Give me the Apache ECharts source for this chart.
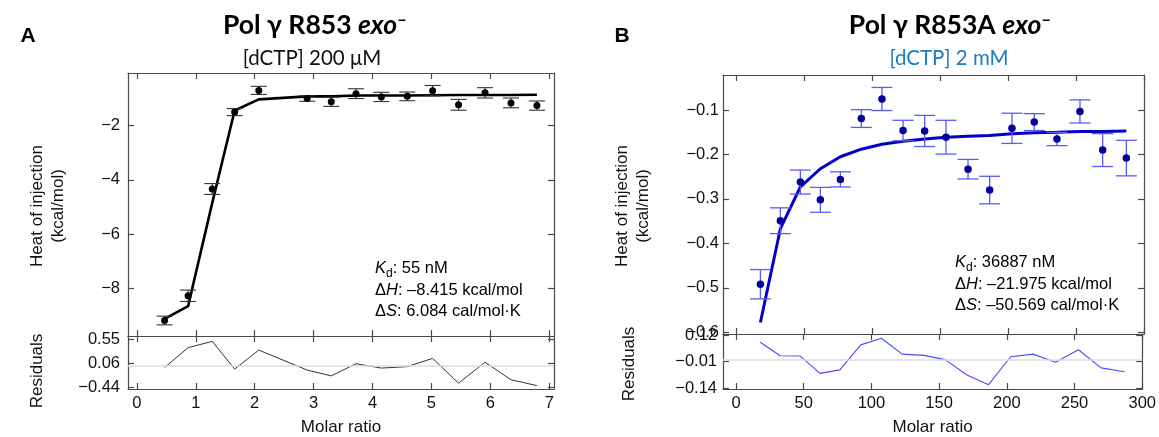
<!DOCTYPE html>
<html>
<head>
<meta charset="UTF-8">
<title>ITC Pol gamma R853</title>
<script src="https://cdn.jsdelivr.net/npm/echarts@6/dist/echarts.min.js"></script>
<style>
    html, body { margin: 0; padding: 0; background: #fff; }
    #main { width: 1159px; height: 437px; }
</style>
</head>
<body>
<div id="main"></div>
<script>
    // ---- panel A : Pol γ R853 exo-, [dCTP] 200 µM ----
    var ratioA = [0.47, 0.87, 1.28, 1.66, 2.07, 2.89, 3.30, 3.72, 4.15, 4.59, 5.02, 5.46, 5.91, 6.35, 6.79];
    var heatA  = [-9.18, -8.27, -4.34, -1.51, -0.71, -1.01, -1.13, -0.83, -0.95, -0.93, -0.72, -1.24, -0.80, -1.17, -1.27];
    var errA   = [0.16, 0.21, 0.20, 0.13, 0.15, 0.10, 0.17, 0.18, 0.17, 0.16, 0.19, 0.20, 0.19, 0.18, 0.17];
    var fitA   = [-9.12, -8.65, -4.85, -1.45, -1.04, -0.93, -0.93, -0.90, -0.90, -0.90, -0.89, -0.88, -0.88, -0.88, -0.87];
    var residA = [-0.03, 0.38, 0.51, -0.06, 0.33, -0.08, -0.20, 0.05, -0.04, -0.01, 0.16, -0.35, 0.08, -0.28, -0.40];
    var xTicksA = [0, 1, 2, 3, 4, 5, 6, 7];
    var yTicksA = [-8, -6, -4, -2];
    var resTicksA = [-0.44, 0.06, 0.55];

    // ---- panel B : Pol γ R853A exo-, [dCTP] 2 mM ----
    var ratioB = [17.9, 32.6, 47.3, 62.0, 76.7, 92.1, 107.3, 122.8, 138.7, 154.4, 170.6, 186.5, 202.9, 219.3, 236.0, 252.9, 269.6, 287.0];
    var heatB  = [-0.492, -0.349, -0.262, -0.302, -0.256, -0.119, -0.075, -0.146, -0.147, -0.161, -0.233, -0.280, -0.141, -0.127, -0.165, -0.103, -0.190, -0.208];
    var errB   = [0.033, 0.029, 0.027, 0.028, 0.017, 0.020, 0.026, 0.023, 0.035, 0.038, 0.022, 0.031, 0.034, 0.019, 0.015, 0.026, 0.037, 0.040];
    var fitB   = [-0.578, -0.367, -0.273, -0.232, -0.205, -0.188, -0.177, -0.170, -0.165, -0.161, -0.159, -0.157, -0.153, -0.151, -0.150, -0.148, -0.148, -0.147];
    var residB = [0.085, 0.019, 0.018, -0.067, -0.050, 0.072, 0.104, 0.027, 0.021, 0.000, -0.075, -0.122, 0.014, 0.027, -0.013, 0.048, -0.040, -0.059];
    var xTicksB = [0, 50, 100, 150, 200, 250, 300];
    var yTicksB = [-0.6, -0.5, -0.4, -0.3, -0.2, -0.1];
    var resTicksB = [-0.14, -0.01, 0.12];

    var AX = '#4a4a4a';
    var FONT = '"Liberation Sans", Arial, sans-serif';
    var TFONT = 'Lato, "Noto Sans", sans-serif';

    function minus(v) {
        return String(v).replace('-', '\u2212');
    }

    function axis(gridIndex, pos, min, max, ticks, labels, margin) {
        return {
            type: 'value', gridIndex: gridIndex, position: pos, min: min, max: max,
            axisLine: {show: true, onZero: false, lineStyle: {color: AX, width: 1.2}},
            axisTick: {show: true, inside: true, length: 6, customValues: ticks, lineStyle: {color: AX, width: 1.2}},
            axisLabel: {show: labels, customValues: ticks, margin: margin || 8, color: '#111',
                fontSize: 16.5, fontFamily: FONT, formatter: minus},
            splitLine: {show: false}
        };
    }

    function pairs(xs, ys) {
        return xs.map(function (x, i) { return [x, ys[i]]; });
    }

    function errBars(color, capW, width) {
        return function (params, api) {
            var x = api.value(0), y = api.value(1), e = api.value(2);
            var hi = api.coord([x, y + e]), lo = api.coord([x, y - e]);
            var st = {stroke: color, lineWidth: width};
            return {
                type: 'group', children: [
                    {type: 'line', shape: {x1: hi[0], y1: hi[1], x2: lo[0], y2: lo[1]}, style: st},
                    {type: 'line', shape: {x1: hi[0] - capW / 2, y1: hi[1], x2: hi[0] + capW / 2, y2: hi[1]}, style: st},
                    {type: 'line', shape: {x1: lo[0] - capW / 2, y1: lo[1], x2: lo[0] + capW / 2, y2: lo[1]}, style: st}
                ]
            };
        };
    }

    var zeroLine = {
        silent: true, symbol: 'none', label: {show: false},
        lineStyle: {color: '#dcdcdc', type: 'solid', width: 1.5},
        data: [{yAxis: 0}]
    };

    var xA = [-0.15, 7.08], xB = [-9.6, 300];

    var xAxes = [
        axis(0, 'bottom', xA[0], xA[1], xTicksA, false),
        axis(0, 'top', xA[0], xA[1], xTicksA, false),
        axis(1, 'bottom', xA[0], xA[1], xTicksA, true, 6),
        axis(1, 'top', xA[0], xA[1], xTicksA, false),
        axis(2, 'bottom', xB[0], xB[1], xTicksB, false),
        axis(2, 'top', xB[0], xB[1], xTicksB, false),
        axis(3, 'bottom', xB[0], xB[1], xTicksB, true, 6),
        axis(3, 'top', xB[0], xB[1], xTicksB, false)
    ];
    xAxes[2].name = 'Molar ratio';
    xAxes[6].name = 'Molar ratio';
    [2, 6].forEach(function (i) {
        xAxes[i].nameLocation = 'middle';
        xAxes[i].nameGap = 30;
        xAxes[i].nameTextStyle = {fontSize: 17, fontFamily: FONT, color: '#111'};
    });

    var yAxes = [
        axis(0, 'left', -9.75, -0.07, yTicksA, true, 8),
        axis(0, 'right', -9.75, -0.07, yTicksA, false),
        axis(1, 'left', -0.47, 0.62, resTicksA, true, 8),
        axis(1, 'right', -0.47, 0.62, resTicksA, false),
        axis(2, 'left', -0.604, -0.021, yTicksB, true, 4),
        axis(2, 'right', -0.604, -0.021, yTicksB, false),
        axis(3, 'left', -0.143, 0.125, resTicksB, true, 6),
        axis(3, 'right', -0.143, 0.125, resTicksB, false)
    ];

    var annoRich = {
        n: {fontSize: 16.5, fontFamily: FONT, color: '#111', lineHeight: 21.5},
        i: {fontSize: 16.5, fontFamily: FONT, fontStyle: 'italic', color: '#111', lineHeight: 21.5},
        sub: {fontSize: 12, fontFamily: FONT, color: '#111', lineHeight: 12, verticalAlign: 'bottom'}
    };

    function titleRich(color) {
        return {
            b: {fontSize: 26.5, fontWeight: 'bold', fontFamily: TFONT, color: color},
            i: {fontSize: 26.5, fontWeight: 'bold', fontStyle: 'italic', fontFamily: TFONT, color: color},
            s: {fontSize: 17, fontWeight: 'bold', fontFamily: TFONT, color: color, verticalAlign: 'top', lineHeight: 12}
        };
    }

    var chart = echarts.init(document.getElementById('main'), null, {renderer: 'canvas'});
    chart.setOption({
        backgroundColor: '#fff',
        animation: false,
        grid: [
            {left: 128, top: 73, width: 426, height: 263},
            {left: 128, top: 336, width: 426, height: 57},
            {left: 723, top: 75, width: 421, height: 259},
            {left: 723, top: 334, width: 421, height: 56}
        ],
        xAxis: xAxes,
        yAxis: yAxes,
        graphic: [
            {type: 'text', x: 28, y: 36, style: {text: 'A', font: 'bold 21px ' + FONT, fill: '#000', align: 'center', verticalAlign: 'middle'}},
            {type: 'text', x: 622, y: 36, style: {text: 'B', font: 'bold 21px ' + FONT, fill: '#000', align: 'center', verticalAlign: 'middle'}},
            {type: 'text', x: 315, y: 25, style: {text: '{b|Pol γ R853 }{i|exo}{s|\u2013}', rich: titleRich('#000'), align: 'center', verticalAlign: 'middle'}},
            {type: 'text', x: 312, y: 58, style: {text: '[dCTP] 200 μM', font: '20.5px ' + TFONT, fill: '#111', align: 'center', verticalAlign: 'middle'}},
            {type: 'text', x: 950, y: 25, style: {text: '{b|Pol γ R853A }{i|exo}{s|\u2013}', rich: titleRich('#0070c0'), align: 'center', verticalAlign: 'middle'}},
            {type: 'text', x: 949, y: 58, style: {text: '[dCTP] 2 mM', font: '20.5px ' + TFONT, fill: '#1a7cc4', align: 'center', verticalAlign: 'middle'}},
            {type: 'text', x: 48, y: 206, rotation: Math.PI / 2, style: {text: 'Heat of injection\n(kcal/mol)', font: '17px ' + FONT, lineHeight: 21, fill: '#111', align: 'center', verticalAlign: 'middle'}},
            {type: 'text', x: 633, y: 206, rotation: Math.PI / 2, style: {text: 'Heat of injection\n(kcal/mol)', font: '17px ' + FONT, lineHeight: 21, fill: '#111', align: 'center', verticalAlign: 'middle'}},
            {type: 'text', x: 37, y: 371, rotation: Math.PI / 2, style: {text: 'Residuals', font: '17px ' + FONT, fill: '#111', align: 'center', verticalAlign: 'middle'}},
            {type: 'text', x: 629, y: 364, rotation: Math.PI / 2, style: {text: 'Residuals', font: '17px ' + FONT, fill: '#111', align: 'center', verticalAlign: 'middle'}},
            {type: 'text', x: 375, y: 290, style: {
                text: '{i|K}{sub|d}{n|: 55 nM}\n{n|Δ}{i|H}{n|: \u20138.415 kcal/mol}\n{n|Δ}{i|S}{n|: 6.084 cal/mol·K}',
                rich: annoRich, align: 'left', verticalAlign: 'middle'}},
            {type: 'text', x: 955, y: 284, style: {
                text: '{i|K}{sub|d}{n|: 36887 nM}\n{n|Δ}{i|H}{n|: \u201321.975 kcal/mol}\n{n|Δ}{i|S}{n|: \u201350.569 cal/mol·K}',
                rich: annoRich, align: 'left', verticalAlign: 'middle'}}
        ],
        series: [
            // panel A
            {type: 'line', xAxisIndex: 0, yAxisIndex: 0, data: pairs(ratioA, fitA), showSymbol: false,
                lineStyle: {color: '#000', width: 2.6}, z: 2},
            {type: 'custom', xAxisIndex: 0, yAxisIndex: 0, renderItem: errBars('#333', 16, 1.1),
                data: ratioA.map(function (x, i) { return [x, heatA[i], errA[i]]; }),
                encode: {x: 0, y: 1}, z: 3},
            {type: 'scatter', xAxisIndex: 0, yAxisIndex: 0, data: pairs(ratioA, heatA), symbolSize: 7,
                itemStyle: {color: '#000', opacity: 1}, z: 4},
            {type: 'line', xAxisIndex: 2, yAxisIndex: 2, data: pairs(ratioA, residA), showSymbol: false,
                lineStyle: {color: '#333', width: 1}, markLine: zeroLine, z: 3},
            // panel B
            {type: 'line', xAxisIndex: 4, yAxisIndex: 4, data: pairs(ratioB, fitB), showSymbol: false,
                lineStyle: {color: '#0000c8', width: 3}, z: 2},
            {type: 'custom', xAxisIndex: 4, yAxisIndex: 4, renderItem: errBars('#5b5bf5', 21, 1.3),
                data: ratioB.map(function (x, i) { return [x, heatB[i], errB[i]]; }),
                encode: {x: 0, y: 1}, z: 3},
            {type: 'scatter', xAxisIndex: 4, yAxisIndex: 4, data: pairs(ratioB, heatB), symbolSize: 7.5,
                itemStyle: {color: '#00009a', opacity: 1}, z: 4},
            {type: 'line', xAxisIndex: 6, yAxisIndex: 6, data: pairs(ratioB, residB), showSymbol: false,
                lineStyle: {color: '#4a4aff', width: 1.1}, markLine: zeroLine, z: 3}
        ]
    });
</script>
</body>
</html>
